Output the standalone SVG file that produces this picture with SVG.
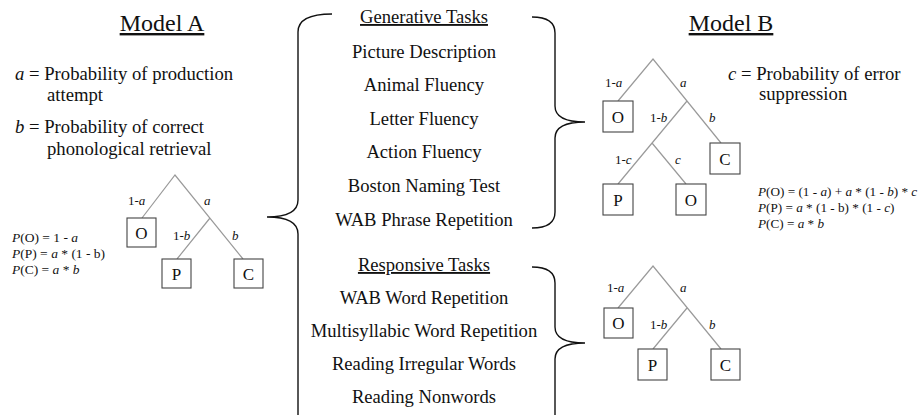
<svg xmlns="http://www.w3.org/2000/svg" width="918" height="415" viewBox="0 0 918 415">
<style>
text{font-family:"Liberation Serif","Times New Roman",serif;fill:#111}
.title{font-size:24px;text-anchor:middle;text-decoration:underline}
.def{font-size:18.7px}
.task{font-size:18.6px;text-anchor:middle}
.head{text-decoration:underline}
.fA{font-size:13.5px}
.fB{font-size:13.2px}
.lbl{font-size:13px}
.box rect{fill:#fff;stroke:#444;stroke-width:1.1}
.box text{font-size:17px;text-anchor:middle}
.edge{stroke:#9a9a9a;stroke-width:1.2;fill:none}
.brace{stroke:#111;stroke-width:1.4;fill:none}
.i{font-style:italic}
</style>

<text class="title" x="162" y="31">Model A</text>
<text class="title" x="731" y="31">Model B</text>

<text class="def" x="15" y="80"><tspan class="i">a</tspan> = Probability of production</text>
<text class="def" x="47" y="101">attempt</text>
<text class="def" x="15" y="133"><tspan class="i">b</tspan> = Probability of correct</text>
<text class="def" x="47" y="155">phonological retrieval</text>
<text class="def" x="728" y="80"><tspan class="i">c</tspan> = Probability of error</text>
<text class="def" x="759" y="100">suppression</text>

<text class="fA" x="12" y="242"><tspan class="i">P</tspan>(O) = 1 - <tspan class="i">a</tspan></text>
<text class="fA" x="12" y="258"><tspan class="i">P</tspan>(P) = <tspan class="i">a</tspan> * (1 - b)</text>
<text class="fA" x="12" y="274"><tspan class="i">P</tspan>(C) = <tspan class="i">a</tspan> * <tspan class="i">b</tspan></text>

<text class="fB" x="758" y="196"><tspan class="i">P</tspan>(O) = (1 - <tspan class="i">a</tspan>) + <tspan class="i">a</tspan> * (1 - <tspan class="i">b</tspan>) * <tspan class="i">c</tspan></text>
<text class="fB" x="758" y="212"><tspan class="i">P</tspan>(P) = <tspan class="i">a</tspan> * (1 - b) * (1 - <tspan class="i">c</tspan>)</text>
<text class="fB" x="758" y="228"><tspan class="i">P</tspan>(C) = <tspan class="i">a</tspan> * <tspan class="i">b</tspan></text>

<g id="tasks">
<text class="task head" x="424" y="23">Generative Tasks</text>
<text class="task" x="424" y="58">Picture Description</text>
<text class="task" x="424" y="91">Animal Fluency</text>
<text class="task" x="424" y="125">Letter Fluency</text>
<text class="task" x="424" y="158">Action Fluency</text>
<text class="task" x="424" y="192">Boston Naming Test</text>
<text class="task" x="424" y="226">WAB Phrase Repetition</text>
<text class="task head" x="424" y="271">Responsive Tasks</text>
<text class="task" x="424" y="304">WAB Word Repetition</text>
<text class="task" x="424" y="337">Multisyllabic Word Repetition</text>
<text class="task" x="424" y="370">Reading Irregular Words</text>
<text class="task" x="424" y="403">Reading Nonwords</text>
</g>

<g id="braces">
<path class="brace" d="M332 14 Q298 14 298 32 L298 200 Q298 217 267 217 Q298 217 298 234 L298 425 Q298 440 332 440"/>
<path class="brace" d="M532 17 Q555 17 555 33 L555 106 Q555 122 585 122 Q555 122 555 138 L555 212 Q555 228 532 228"/>
<path class="brace" d="M532 267 Q555 267 555 283 L555 327 Q555 343 585 343 Q555 343 555 359 L555 425 Q555 440 532 440"/>
</g>

<g id="connectors">
<path class="edge" d="M142 218 L175 175 L243 259 M210 218 L177 259"/>
<path class="edge" d="M618 101 L653 59 L721 143 M687 101 L618 184 M652 143 L686 184"/>
<path class="edge" d="M618 308 L653 266 L721 349 M687 308 L653 349"/>
</g>

<g id="labels">
<text class="lbl" x="128" y="205">1-<tspan class="i">a</tspan></text>
<text class="lbl i" x="204" y="205">a</text>
<text class="lbl" x="173" y="240">1-<tspan class="i">b</tspan></text>
<text class="lbl i" x="232" y="240">b</text>

<text class="lbl" x="605" y="87">1-<tspan class="i">a</tspan></text>
<text class="lbl i" x="680" y="87">a</text>
<text class="lbl" x="650" y="122">1-<tspan class="i">b</tspan></text>
<text class="lbl i" x="709" y="122">b</text>
<text class="lbl" x="615" y="164">1-<tspan class="i">c</tspan></text>
<text class="lbl i" x="675" y="164">c</text>

<text class="lbl" x="607" y="292">1-<tspan class="i">a</tspan></text>
<text class="lbl i" x="680" y="292">a</text>
<text class="lbl" x="650" y="329">1-<tspan class="i">b</tspan></text>
<text class="lbl i" x="709" y="329">b</text>
</g>

<g id="A-O" class="box"><rect x="127" y="218" width="29" height="29"/><text x="141.5" y="238.5">O</text></g>
<g id="A-P" class="box"><rect x="162" y="259" width="29" height="29"/><text x="176.5" y="279.5">P</text></g>
<g id="A-C" class="box"><rect x="234" y="259" width="29" height="29"/><text x="248.5" y="279.5">C</text></g>

<g id="B1-O" class="box"><rect x="603" y="101" width="30" height="31"/><text x="618" y="122.5">O</text></g>
<g id="B1-C" class="box"><rect x="710" y="143" width="30" height="31"/><text x="725" y="164.5">C</text></g>
<g id="B1-P" class="box"><rect x="603" y="184" width="30" height="31"/><text x="618" y="205.5">P</text></g>
<g id="B1-O2" class="box"><rect x="676" y="184" width="30" height="31"/><text x="691" y="205.5">O</text></g>

<g id="B2-O" class="box"><rect x="604" y="308" width="29" height="30"/><text x="618.5" y="329">O</text></g>
<g id="B2-P" class="box"><rect x="638" y="349" width="29" height="31"/><text x="652.5" y="370.5">P</text></g>
<g id="B2-C" class="box"><rect x="711" y="349" width="29" height="31"/><text x="725.5" y="370.5">C</text></g>
</svg>
